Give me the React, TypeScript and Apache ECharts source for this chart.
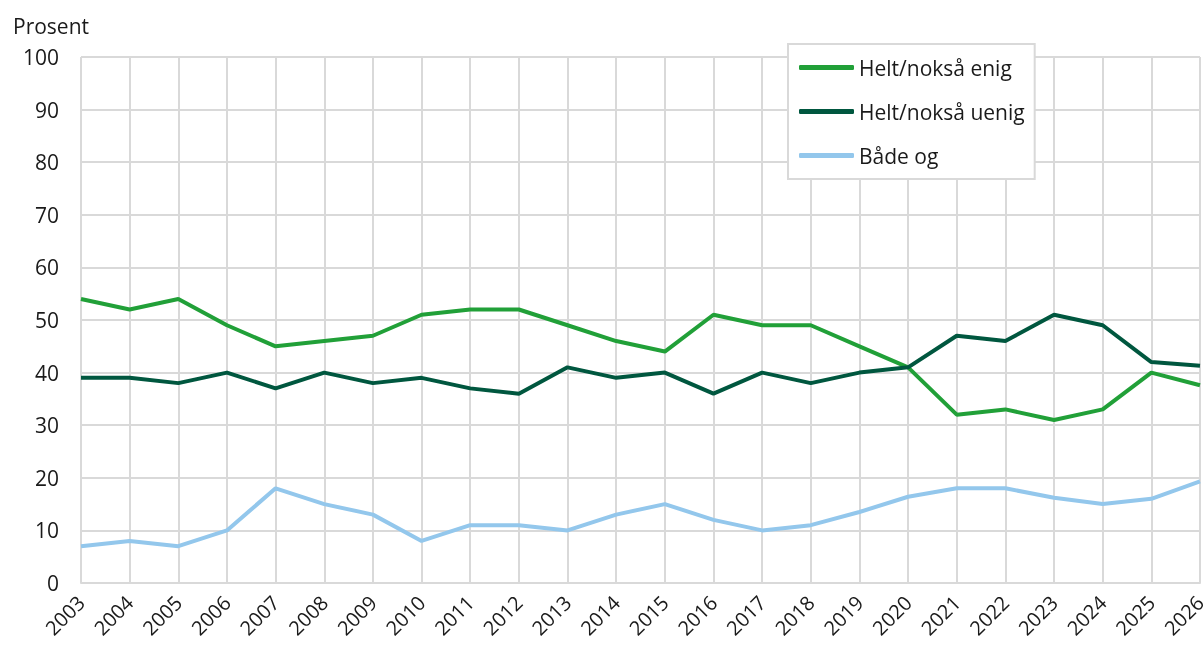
import React, { useEffect, useRef } from "react";
import * as echarts from "echarts";

const years = ["2003","2004","2005","2006","2007","2008","2009","2010","2011","2012","2013","2014","2015","2016","2017","2018","2019","2020","2021","2022","2023","2024","2025","2026"];
const enig = [54, 52, 54, 49, 45, 46, 47, 51, 52, 52, 49, 46, 44, 51, 49, 49, 45, 41, 32, 33, 31, 33, 40, 37.6];
const uenig = [39, 39, 38, 40, 37, 40, 38, 39, 37, 36, 41, 39, 40, 36, 40, 38, 40, 41, 47, 46, 51, 49, 42, 41.3];
const badeOg = [7, 8, 7, 10, 18, 15, 13, 8, 11, 11, 10, 13, 15, 12, 10, 11, 13.5, 16.4, 18, 18, 16.2, 15, 16, 19.3];
const seriesNames = ["Helt/nokså enig", "Helt/nokså uenig", "Både og"];
const colors = ["#21a038", "#00573f", "#93c7ec"];

export default function App() {
  const ref = useRef<HTMLDivElement>(null);
  useEffect(() => {
    if (!ref.current) return;
    const chart = echarts.init(ref.current, undefined, { renderer: "svg" });
    const font = "'Open Sans', sans-serif";
    const datasets = [enig, uenig, badeOg];
    chart.setOption({
      animation: false,
      textStyle: { fontFamily: font },
      grid: { left: 81, right: 3, top: 57, bottom: 65, containLabel: false, outerBoundsMode: "none" },
      title: {
        text: "Prosent",
        left: 8,
        top: 10,
        textStyle: { fontFamily: font, fontSize: 21, fontWeight: "normal", color: "#1a1a1a" },
      },
      legend: {
        orient: "vertical",
        left: 788,
        top: 44,
        backgroundColor: "#fff",
        borderColor: "#d9d9d9",
        borderWidth: 2,
        padding: [13, 10, 13, 11],
        itemGap: 23,
        itemWidth: 55,
        itemHeight: 5,
        icon: "roundRect",
        textStyle: { fontFamily: font, fontSize: 21, color: "#1a1a1a" },
        data: seriesNames,
      },
      xAxis: {
        type: "category",
        data: years,
        boundaryGap: false,
        axisLine: { lineStyle: { color: "#d9d9d9", width: 2 } },
        axisTick: { show: false },
        splitLine: { show: true, lineStyle: { color: "#d9d9d9", width: 2 } },
        axisLabel: { rotate: 45, fontFamily: font, fontSize: 20, color: "#1a1a1a", margin: 16, interval: 0 },
      },
      yAxis: {
        type: "value",
        min: 0,
        max: 100,
        interval: 10,
        axisLine: { show: false },
        axisTick: { show: false },
        splitLine: { lineStyle: { color: "#d9d9d9", width: 2 } },
        axisLabel: { fontFamily: font, fontSize: 21, color: "#1a1a1a", margin: 22 },
      },
      series: seriesNames.map((n, i) => ({
        name: n,
        type: "line",
        data: datasets[i],
        color: colors[i],
        symbol: "none",
        lineStyle: { width: 4, color: colors[i] },
      })),
    });
    return () => chart.dispose();
  }, []);
  return <div ref={ref} style={{ position: "fixed", left: 0, top: 0, width: 1203, height: 648 }} />;
}
